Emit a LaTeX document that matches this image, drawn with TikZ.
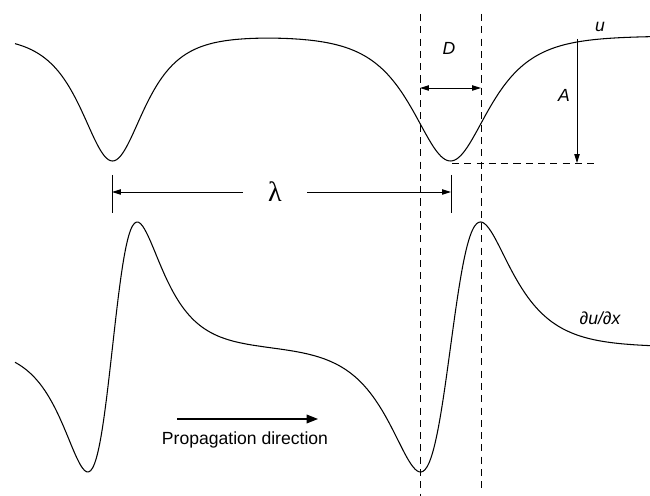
\documentclass[tikz,border=0pt]{standalone}
\usepackage{fontspec}
\setmainfont{Liberation Sans}
\newfontfamily\lamfont{Liberation Serif}
\usetikzlibrary{arrows.meta, calc}

\begin{document}
\begin{tikzpicture}[x=0.02cm, y=-0.02cm,
		curve/.style={line width=0.6pt},
		guide/.style={line width=0.5pt, dash pattern=on 4pt off 3pt},
		dim/.style={line width=0.5pt, -{Triangle[length=5pt,width=3pt]}},
		lbl/.style={font=\itshape, inner sep=1pt},
		declare function={
			sh(\s)=2*exp(-abs(\s))/(1+exp(-2*abs(\s)));
			st(\s)=sign(\s)*2*exp(-abs(\s))*(1-exp(-2*abs(\s)))/(1+exp(-2*abs(\s)))^2;
		}]
		\useasboundingbox (0,0) rectangle (650,496);
		% wave u and its slope
		\draw[curve] plot[domain=15:650, samples=320, smooth]
			(\x,{36+125*(sh((\x-112.5)/28)+sh((\x-450.5)/34))});
		\draw[curve] plot[domain=15:650, samples=320, smooth]
			(\x,{347-250*(st((\x-112.5)/28)+st((\x-450.5)/34))});
		\node[lbl] (u) at (600,27) {u};
		\node[lbl] (dudx) at (600,318) {∂u/∂x};
		% width D
		\coordinate (dl top) at (420,14);
		\coordinate (dl bot) at (420,496);
		\coordinate (dr top) at (481,14);
		\coordinate (dr bot) at (481,492);
		\draw[guide] (dl top) -- (dl bot);
		\draw[guide] (dr top) -- (dr bot);
		\coordinate (d1) at (420,88);
		\coordinate (d2) at (481,88);
		\draw[dim, {Triangle[length=5pt,width=3pt]}-{Triangle[length=5pt,width=3pt]}] (d1) -- (d2);
		\node[lbl] (D) at (449,48) {D};
		% amplitude A
		\coordinate (a top) at (577,39);
		\coordinate (a bot) at (577,163);
		\coordinate (m1) at (452,163);
		\coordinate (m2) at (596,163);
		\draw[guide] (m1) -- (m2);
		\draw[dim] (a top) -- (a bot);
		\node[lbl] (A) at (564,95) {A};
		% wavelength
		\coordinate (tl1) at (112,175);
		\coordinate (tl2) at (112,213);
		\coordinate (tr1) at (451,175);
		\coordinate (tr2) at (451,213);
		\draw[line width=0.5pt] (tl1) -- (tl2);
		\draw[line width=0.5pt] (tr1) -- (tr2);
		\node[minimum width=1.28cm, inner sep=0pt, font=\lamfont\fontsize{16}{16}\selectfont] (lam) at (275,192) {λ};
		\draw[dim] (lam.west) -- (lam.west -| tl1);
		\draw[dim] (lam.east) -- (lam.east -| tr1);
		% propagation
		\coordinate (p1) at (177,419);
		\coordinate (p2) at (318,419);
		\draw[line width=0.6pt, -{Triangle[length=6.5pt,width=5pt]}] (p1) -- (p2);
		\node (prop) at (245,440) {Propagation direction};
	\end{tikzpicture}
\end{document}
